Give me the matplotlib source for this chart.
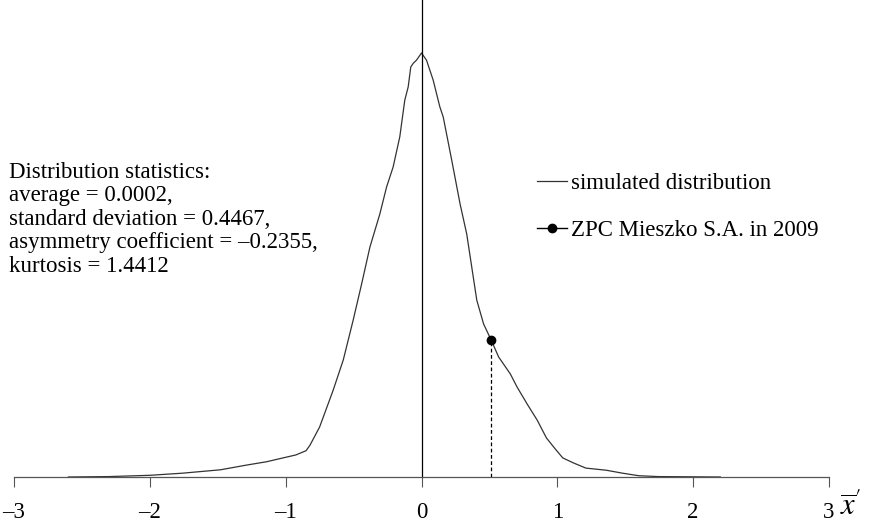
import matplotlib
matplotlib.use("Agg")
import matplotlib.pyplot as plt

# simulated distribution (peak = 1)
x_sim = [-2.6, -2.3, -2.0, -1.76, -1.48, -1.29, -1.14, -1.02, -0.925, -0.85,
         -0.821, -0.75, -0.65, -0.576, -0.503, -0.441, -0.38, -0.307, -0.257,
         -0.209, -0.16, -0.123, -0.098, -0.079, -0.06, -0.037, 0.0, 0.037,
         0.086, 0.135, 0.16, 0.222, 0.284, 0.333, 0.37, 0.407, 0.457, 0.513,
         0.568, 0.654, 0.704, 0.778, 0.852, 0.92, 0.98, 1.04, 1.12, 1.21,
         1.36, 1.48, 1.6, 1.74, 2.2]
y_sim = [0.0, 0.001, 0.004, 0.009, 0.017, 0.028, 0.036, 0.045, 0.052, 0.062,
         0.075, 0.118, 0.205, 0.276, 0.370, 0.455, 0.542, 0.620, 0.684,
         0.731, 0.802, 0.889, 0.920, 0.967, 0.976, 0.983, 1.0, 0.983,
         0.936, 0.873, 0.849, 0.748, 0.644, 0.573, 0.495, 0.417, 0.361, 0.323,
         0.283, 0.243, 0.212, 0.172, 0.134, 0.092, 0.068, 0.045, 0.033, 0.021,
         0.016, 0.009, 0.003, 0.001, 0.0]

# company point
x_firm = [0.513]
y_firm = [0.323]

x_ticks = [-3, -2, -1, 0, 1, 2, 3]

stats_text = ("Distribution statistics:\n"
              "average = 0.0002,\n"
              "standard deviation = 0.4467,\n"
              "asymmetry coefficient = \u20130.2355,\n"
              "kurtosis = 1.4412")

plt.rcParams["font.family"] = ["Liberation Serif", "DejaVu Serif"]
plt.rcParams["mathtext.fontset"] = "stix"

fig = plt.figure(figsize=(8.73, 5.27), dpi=100)
ax = fig.add_axes([14 / 873, 50 / 527, 815 / 873, 477 / 527])

line_sim, = ax.plot(x_sim, y_sim, color="#333333", lw=0.9,
                    label="simulated distribution")
ax.plot([x_firm[0], x_firm[0]], [0, y_firm[0]], color="black", lw=0.9,
        linestyle=(0, (3, 2)))
line_firm, = ax.plot(x_firm, y_firm, "-o", color="black", ms=6, lw=1.0,
                     label="ZPC Mieszko S.A. in 2009")

ax.set_xlim(-3, 3)
ax.set_ylim(0, 477 / 424)

ax.spines["top"].set_visible(False)
ax.spines["right"].set_visible(False)
ax.spines["left"].set_position(("data", 0))
ax.spines["left"].set_linewidth(0.9)
ax.spines["bottom"].set_color("#555555")
ax.spines["bottom"].set_linewidth(0.9)
ax.set_yticks([])
ax.set_xticks(x_ticks)
ax.set_xticklabels([str(t).replace("-", "\u2013") for t in x_ticks])
ax.tick_params(axis="x", direction="out", length=7, width=0.8,
               color="#555555", labelsize=16.5, pad=11)

fig.text(851 / 873, 1 - 507 / 527, r"$\overline{x}^{\prime}$", fontsize=22,
         ha="center", va="center")

fig.text(9 / 873, 1 - 162 / 527, stats_text, fontsize=16.5, ha="left",
         va="top", linespacing=1.15)

ax.legend(handles=[line_sim, line_firm], loc="upper left",
          bbox_to_anchor=(537 / 873, 1 - 173 / 527),
          bbox_transform=fig.transFigure, frameon=False, fontsize=16.5,
          handlelength=1.3, handletextpad=0.2, labelspacing=1.14,
          borderaxespad=0, borderpad=0)

fig.savefig("out.png", dpi=100)
